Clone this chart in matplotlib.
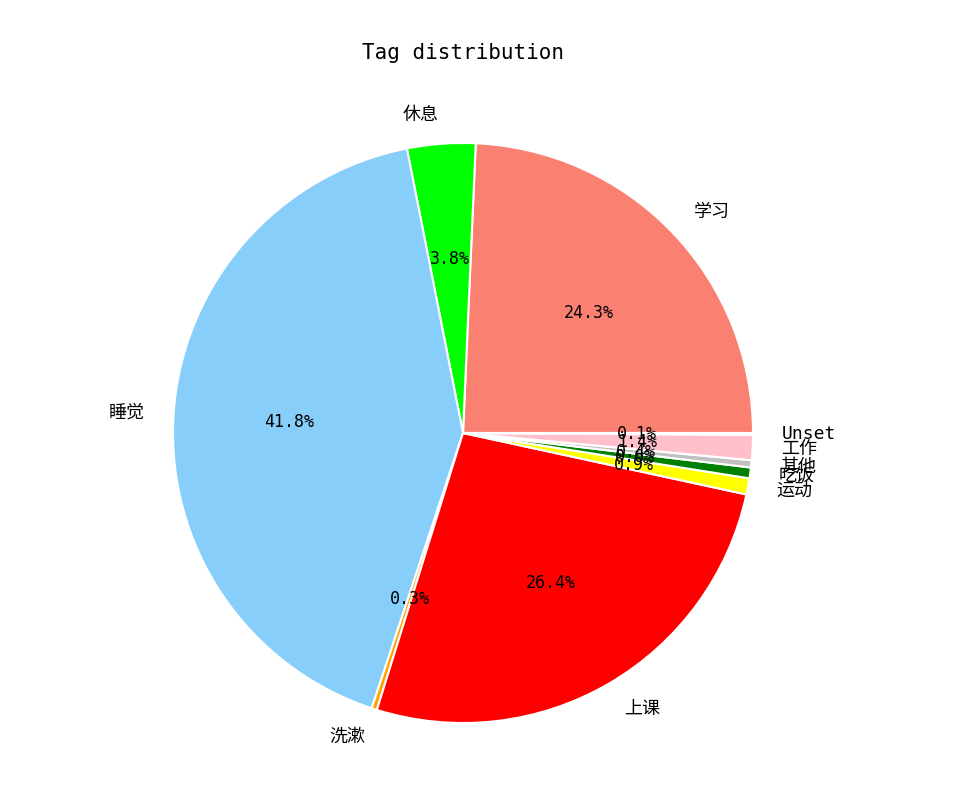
import matplotlib
matplotlib.use("Agg")
import matplotlib.pyplot as plt

plt.rcParams['font.family'] = ['DejaVu Sans Mono', 'Noto Sans CJK SC']

# Tag shares (percent), counter-clockwise from 0 deg
labels = ["学习", "休息", "睡觉", "洗漱", "上课", "运动", "吃饭", "其他", "工作", "Unset"]
values = [24.3, 3.8, 41.8, 0.3, 26.4, 0.9, 0.6, 0.4, 1.4, 0.1]
colors = ["salmon", "lime", "lightskyblue", "orange", "red", "yellow",
          "green", "silver", "pink", "mistyrose"]

fig = plt.figure(figsize=(9.59, 7.87), dpi=100)
ax = fig.add_axes([100.5 / 959, -8.5 / 787, 725 / 959, 725 / 787])

wedges, texts, autotexts = ax.pie(
    values, labels=labels, colors=colors, autopct="%1.1f%%",
    startangle=0, counterclock=True,
    wedgeprops={"edgecolor": "white", "linewidth": 1.5},
    textprops={"fontsize": 13})
for t in autotexts:
    t.set_fontsize(12)
ax.set_title("Tag distribution", fontsize=15, pad=8)

fig.savefig("out.png", dpi=100)
